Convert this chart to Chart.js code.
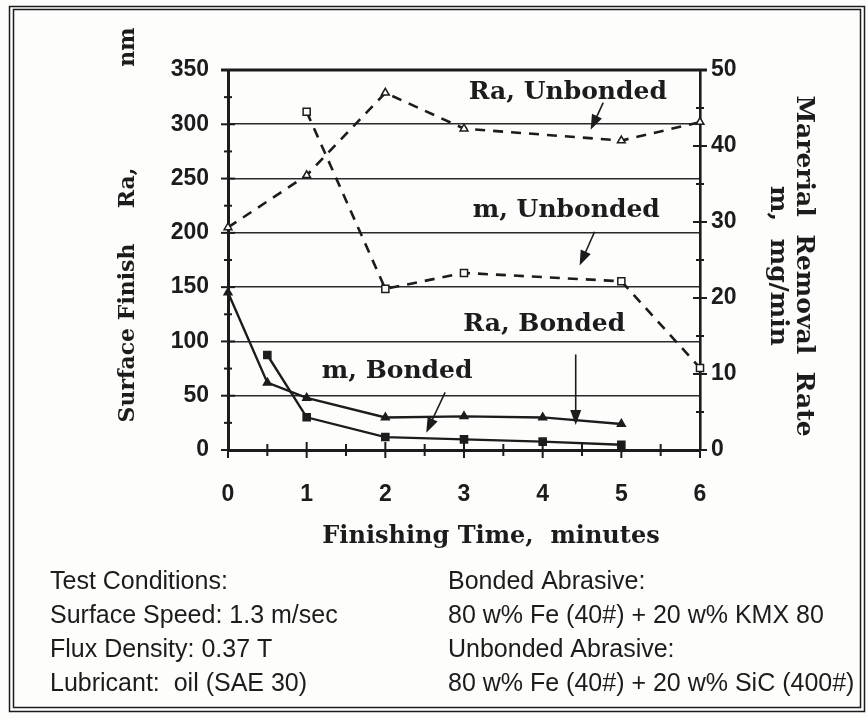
<!DOCTYPE html>
<html>
<head>
<meta charset="utf-8">
<script src="https://cdn.jsdelivr.net/npm/chart.js@4/dist/chart.umd.min.js"></script>
<style>
  html, body { margin: 0; padding: 0; background: #fdfdfc; }
  canvas { display: block; }
</style>
</head>
<body>
<canvas id="chart" width="867" height="719"></canvas>
<script>
// Finishing time (minutes) and measured values for each series
const raUnbondedTime   = [0, 1, 2, 3, 5, 6];
const raUnbondedValues = [205, 253, 329, 296, 285, 302];      // Ra, nm
const mUnbondedTime    = [1, 2, 3, 5, 6];
const mUnbondedValues  = [44.5, 21.2, 23.3, 22.2, 10.8];      // mg/min
const raBondedTime     = [0, 0.5, 1, 2, 3, 4, 5];
const raBondedValues   = [145, 62, 48, 30, 31, 30, 24];       // Ra, nm
const mBondedTime      = [0.5, 1, 2, 3, 4, 5];
const mBondedValues    = [12.5, 4.3, 1.7, 1.4, 1.1, 0.7];     // mg/min

// Labelled ticks
const timeTicks = [0, 1, 2, 3, 4, 5, 6];
const raTicks   = [0, 50, 100, 150, 200, 250, 300, 350];
const mTicks    = [0, 10, 20, 30, 40, 50];

// Callout texts
const seriesNames = ['Ra, Unbonded', 'm, Unbonded', 'Ra, Bonded', 'm, Bonded'];

const ink = '#1c1c1c';
const serif = '"DejaVu Serif", serif';
const sans = '"Liberation Sans", Arial, sans-serif';

const toPoints = (xs, ys) => xs.map((t, i) => ({ x: t, y: ys[i] }));

function drawArrow(ctx, x1, y1, x2, y2) {
  const ang = Math.atan2(y2 - y1, x2 - x1);
  const head = 15, half = 5.5;
  ctx.lineWidth = 1.6;
  ctx.beginPath();
  ctx.moveTo(x1, y1);
  ctx.lineTo(x2 - Math.cos(ang) * head * 0.8, y2 - Math.sin(ang) * head * 0.8);
  ctx.stroke();
  ctx.beginPath();
  ctx.moveTo(x2, y2);
  ctx.lineTo(x2 - Math.cos(ang) * head - Math.sin(ang) * half, y2 - Math.sin(ang) * head + Math.cos(ang) * half);
  ctx.lineTo(x2 - Math.cos(ang) * head + Math.sin(ang) * half, y2 - Math.sin(ang) * head - Math.cos(ang) * half);
  ctx.closePath();
  ctx.fill();
}

function line(ctx, x1, y1, x2, y2) {
  ctx.beginPath(); ctx.moveTo(x1, y1); ctx.lineTo(x2, y2); ctx.stroke();
}

const decor = {
  id: 'decor',
  beforeDraw(chart) {
    const { ctx, width, height } = chart;
    ctx.save();
    ctx.fillStyle = '#fdfdfc';
    ctx.fillRect(0, 0, width, height);
    ctx.restore();
  },
  afterDraw(chart) {
    const { ctx, chartArea: a, scales: { x, y, y1 } } = chart;
    ctx.save();
    ctx.strokeStyle = ink;
    ctx.fillStyle = ink;

    // top edge of the plot
    ctx.lineWidth = 3;
    const topY = y.getPixelForValue(y.max);
    line(ctx, a.left - 7, topY, a.right + 7, topY);

    // tick marks crossing the axes
    ctx.lineWidth = 2;
    x.ticks.forEach(t => {
      const px = x.getPixelForValue(t.value);
      const len = timeTicks.includes(t.value) ? 8 : 6;
      line(ctx, px, a.bottom - len, px, a.bottom + len);
    });
    y.ticks.forEach(t => {
      const py = y.getPixelForValue(t.value);
      const len = raTicks.includes(t.value) ? 7 : 4;
      line(ctx, a.left - len, py, a.left + len, py);
    });
    y1.ticks.forEach(t => {
      const py = y1.getPixelForValue(t.value);
      const len = mTicks.includes(t.value) ? 7 : 4;
      line(ctx, a.right - len, py, a.right + len, py);
    });

    // callouts: text centre, arrow start, arrow tip (time, Ra)
    const callouts = [
      { text: [4.32, 329], from: [4.77, 320], to: [4.61, 295] },
      { text: [4.30, 221], from: [4.66, 201], to: [4.47, 170] },
      { text: [4.02, 116], from: [4.42, 88],  to: [4.42, 23] },
      { text: [2.15, 72],  from: [2.76, 53],  to: [2.52, 16] }
    ];
    ctx.font = 'bold 25px ' + serif;
    ctx.textAlign = 'center';
    ctx.textBaseline = 'middle';
    callouts.forEach((c, i) => {
      ctx.fillText(seriesNames[i], x.getPixelForValue(c.text[0]), y.getPixelForValue(c.text[1]));
      drawArrow(ctx,
        x.getPixelForValue(c.from[0]), y.getPixelForValue(c.from[1]),
        x.getPixelForValue(c.to[0]), y.getPixelForValue(c.to[1]));
    });

    // axis titles
    ctx.font = 'bold 24px ' + serif;
    ctx.fillText('Finishing Time,  minutes', 491, 537);

    ctx.save();
    ctx.translate(128, 0);
    ctx.rotate(-Math.PI / 2);
    ctx.font = 'bold 22px ' + serif;
    ctx.fillText('Surface Finish', -333, 0);
    ctx.fillText('Ra,', -188, 0);
    ctx.fillText('nm', -47, 0);
    ctx.restore();

    ctx.save();
    ctx.font = 'bold 25px ' + serif;
    ctx.translate(803, 266);
    ctx.rotate(Math.PI / 2);
    ctx.fillText('Marerial  Removal  Rate', 0, 0);
    ctx.fillText('m,  mg/min', 0, 26);
    ctx.restore();

    // test notes
    ctx.font = '25px ' + sans;
    ctx.textAlign = 'left';
    const left = ['Test Conditions:', 'Surface Speed: 1.3 m/sec', 'Flux Density: 0.37 T', 'Lubricant:  oil (SAE 30)'];
    const right = ['Bonded Abrasive:', '80 w% Fe (40#) + 20 w% KMX 80', 'Unbonded Abrasive:', '80 w% Fe (40#) + 20 w% SiC (400#)'];
    left.forEach((s, i) => ctx.fillText(s, 50, 582 + i * 34));
    right.forEach((s, i) => ctx.fillText(s, 448, 582 + i * 34));

    // double frame
    ctx.lineWidth = 1.5;
    ctx.strokeRect(9.5, 6.5, 855, 705);
    ctx.strokeRect(13.5, 9.5, 847, 698);
    ctx.restore();
  }
};

const dataset = (label, xs, ys, axis, dashed, style, fill) => ({
  label,
  data: toPoints(xs, ys),
  yAxisID: axis,
  borderColor: ink,
  borderWidth: dashed ? 2.6 : 2.4,
  borderDash: dashed ? [10, 8] : [],
  pointStyle: style,
  pointRadius: style === 'rect' ? 5 : 4.5,
  pointBackgroundColor: fill ? ink : '#fdfdfc',
  pointBorderColor: ink,
  pointBorderWidth: 1.5,
  tension: 0,
  clip: false
});

const tickFont = { family: sans, size: 23, weight: 'bold' };

new Chart(document.getElementById('chart'), {
  type: 'line',
  data: {
    datasets: [
      dataset('Ra, Unbonded', raUnbondedTime, raUnbondedValues, 'y', true, 'triangle', false),
      dataset('m, Unbonded', mUnbondedTime, mUnbondedValues, 'y1', true, 'rect', false),
      dataset('Ra, Bonded', raBondedTime, raBondedValues, 'y', false, 'triangle', true),
      dataset('m, Bonded', mBondedTime, mBondedValues, 'y1', false, 'rect', true)
    ]
  },
  options: {
    responsive: false,
    animation: false,
    layout: { padding: { top: 70, left: 0, right: 0, bottom: 0 } },
    plugins: { legend: { display: false }, tooltip: { enabled: false } },
    scales: {
      x: {
        type: 'linear', position: 'bottom', min: 0, max: 6,
        afterFit: s => { s.height = 269; },
        grid: { display: false, drawTicks: false },
        border: { display: true, width: 3, color: ink },
        ticks: {
          stepSize: 0.5, autoSkip: false, padding: 31, color: ink,
          font: tickFont,
          callback: v => timeTicks.includes(v) ? String(v) : ''
        }
      },
      y: {
        type: 'linear', position: 'left', min: 0, max: 350,
        afterFit: s => { s.width = 228; },
        grid: {
          drawTicks: false, lineWidth: 1.6,
          color: c => (c.tick && c.tick.value > 0 && c.tick.value < 350 && raTicks.includes(c.tick.value)) ? '#2a2a2a' : 'rgba(0,0,0,0)'
        },
        border: { display: true, width: 3, color: ink },
        ticks: {
          stepSize: 25, autoSkip: false, padding: 19, color: ink,
          font: tickFont,
          callback: v => raTicks.includes(v) ? String(v) : ''
        }
      },
      y1: {
        type: 'linear', position: 'right', min: 0, max: 50,
        afterFit: s => { s.width = 167; },
        grid: { display: false, drawTicks: false },
        border: { display: true, width: 2.6, color: ink },
        ticks: {
          stepSize: 5, autoSkip: false, padding: 11, color: ink,
          font: tickFont,
          callback: v => mTicks.includes(v) ? String(v) : ''
        }
      }
    }
  },
  plugins: [decor]
});
</script>
</body>
</html>
